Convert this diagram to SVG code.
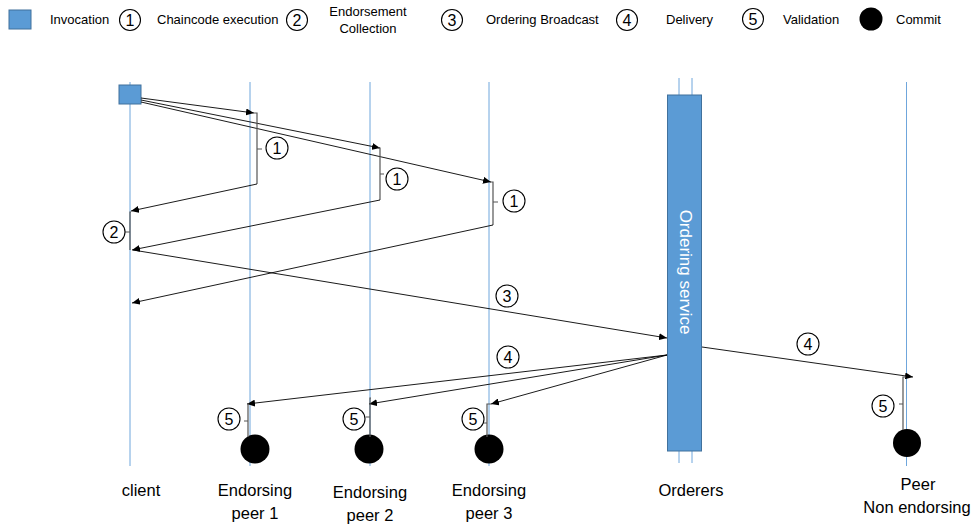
<svg xmlns="http://www.w3.org/2000/svg" width="971" height="524" viewBox="0 0 971 524">
<style>
text{font-family:"Liberation Sans",Arial,sans-serif;fill:#000}
.lg{font-size:13px}
.lb{font-size:16.5px;text-anchor:middle}
.num{font-size:16px;text-anchor:middle}
.life{stroke:#6fa6dc;stroke-width:1;fill:none}
.arr{stroke:#000;stroke-width:0.9;fill:none;marker-end:url(#ah)}
.br{stroke:#555;stroke-width:1.2;fill:none}
.nc{fill:#fff;stroke:#000;stroke-width:1.1}
.blue{fill:#5b9bd5;stroke:#41719c;stroke-width:1}
</style>
<defs>
<marker id="ah" markerUnits="userSpaceOnUse" markerWidth="8" markerHeight="7" refX="8" refY="3.5" orient="auto">
<path d="M0,0 L8,3.5 L0,7 z" fill="#000"/>
</marker>
</defs>
<rect width="971" height="524" fill="#fff"/>

<g id="legend">
<rect x="9" y="10" width="22" height="19" class="blue"/>
<text class="lg" x="50" y="24">Invocation</text>
<circle cx="130" cy="20" r="10.5" class="nc"/><text class="num" x="130" y="25.8">1</text>
<text class="lg" x="157" y="24">Chaincode execution</text>
<circle cx="297" cy="20" r="10.5" class="nc"/><text class="num" x="297" y="25.8">2</text>
<text class="lg" x="368" y="16" text-anchor="middle">Endorsement</text>
<text class="lg" x="368" y="33" text-anchor="middle">Collection</text>
<circle cx="452" cy="20" r="10.5" class="nc"/><text class="num" x="452" y="25.8">3</text>
<text class="lg" x="486" y="24">Ordering Broadcast</text>
<circle cx="627" cy="20" r="10.5" class="nc"/><text class="num" x="627" y="25.8">4</text>
<text class="lg" x="666" y="24">Delivery</text>
<circle cx="753" cy="19" r="10.5" class="nc"/><text class="num" x="753" y="24.8">5</text>
<text class="lg" x="783" y="24">Validation</text>
<circle cx="871" cy="19" r="11.5" fill="#000"/>
<text class="lg" x="896" y="24">Commit</text>
</g>

<g id="client">
<line x1="130" y1="82" x2="130" y2="466" class="life"/>
<rect x="119" y="85" width="22" height="19" class="blue"/>
<text class="lb" x="141" y="496">client</text>
</g>

<g id="peer1">
<line x1="250" y1="82" x2="250" y2="466" class="life"/>
<circle cx="255" cy="449" r="14.5" fill="#000"/>
<text class="lb" x="255" y="496">Endorsing</text>
<text class="lb" x="255" y="519">peer 1</text>
</g>

<g id="peer2">
<line x1="370" y1="82" x2="370" y2="466" class="life"/>
<circle cx="369" cy="449" r="14.5" fill="#000"/>
<text class="lb" x="370" y="498">Endorsing</text>
<text class="lb" x="370" y="521">peer 2</text>
</g>

<g id="peer3">
<line x1="489" y1="82" x2="489" y2="466" class="life"/>
<circle cx="489" cy="449" r="14.5" fill="#000"/>
<text class="lb" x="489" y="496">Endorsing</text>
<text class="lb" x="489" y="519">peer 3</text>
</g>

<g id="orderers">
<line x1="679" y1="78" x2="679" y2="463" class="life"/>
<line x1="692" y1="78" x2="692" y2="463" class="life"/>
<rect x="667.5" y="95" width="34" height="356" class="blue"/>
<text x="685" y="272" transform="rotate(90 685 272)" text-anchor="middle" dominant-baseline="central" style="font-size:17px;fill:#fff">Ordering service</text>
<text class="lb" x="691" y="496">Orderers</text>
</g>

<g id="peer-nonendorsing">
<line x1="906.5" y1="82" x2="906.5" y2="466" class="life"/>
<circle cx="907" cy="443" r="14" fill="#000"/>
<text class="lb" x="918" y="490">Peer</text>
<text class="lb" x="917" y="513">Non endorsing</text>
</g>

<g id="connectors">
<line x1="141" y1="98" x2="254" y2="113" class="arr"/>
<line x1="141" y1="100" x2="380" y2="148" class="arr"/>
<line x1="141" y1="102" x2="491" y2="182" class="arr"/>
<path d="M254,113 H257 V184 M257,149 H262" class="br"/>
<path d="M378,148 H380 V200 M380,174 H384" class="br"/>
<path d="M490,182 H493 V225 M493,202 H498" class="br"/>
<line x1="257" y1="184" x2="131" y2="211" class="arr"/>
<line x1="380" y1="200" x2="132" y2="250" class="arr"/>
<line x1="493" y1="225" x2="132" y2="303" class="arr"/>
<path d="M131,212 H130 V250 M130,232 H125" class="br"/>
<line x1="133" y1="250" x2="667" y2="338" class="arr"/>
<line x1="667" y1="355" x2="247" y2="404" class="arr"/>
<line x1="667" y1="355" x2="369" y2="404" class="arr"/>
<line x1="667" y1="355" x2="491" y2="404" class="arr"/>
<line x1="702" y1="347" x2="913" y2="377" class="arr"/>
<path d="M249,404 H248 V437 M248,421 H244" class="br"/>
<path d="M371,398 H370 V437 M370,417 H366" class="br"/>
<path d="M491,404 H487 V437 M487,423 H483" class="br"/>
<path d="M906,377 H903 V430 M903,404 H899" class="br"/>
<circle cx="277" cy="148" r="11" class="nc"/><text class="num" x="277" y="153.8">1</text>
<circle cx="397" cy="179" r="11" class="nc"/><text class="num" x="397" y="184.8">1</text>
<circle cx="514" cy="201" r="11" class="nc"/><text class="num" x="514" y="206.8">1</text>
<circle cx="114" cy="232" r="11" class="nc"/><text class="num" x="114" y="237.8">2</text>
<circle cx="507" cy="296" r="11" class="nc"/><text class="num" x="507" y="301.8">3</text>
<circle cx="508" cy="357" r="11" class="nc"/><text class="num" x="508" y="362.8">4</text>
<circle cx="808" cy="344" r="11" class="nc"/><text class="num" x="808" y="349.8">4</text>
<circle cx="229" cy="419" r="11" class="nc"/><text class="num" x="229" y="424.8">5</text>
<circle cx="354" cy="419" r="11" class="nc"/><text class="num" x="354" y="424.8">5</text>
<circle cx="473" cy="419" r="11" class="nc"/><text class="num" x="473" y="424.8">5</text>
<circle cx="883" cy="406" r="11" class="nc"/><text class="num" x="883" y="411.8">5</text>
</g>
</svg>
